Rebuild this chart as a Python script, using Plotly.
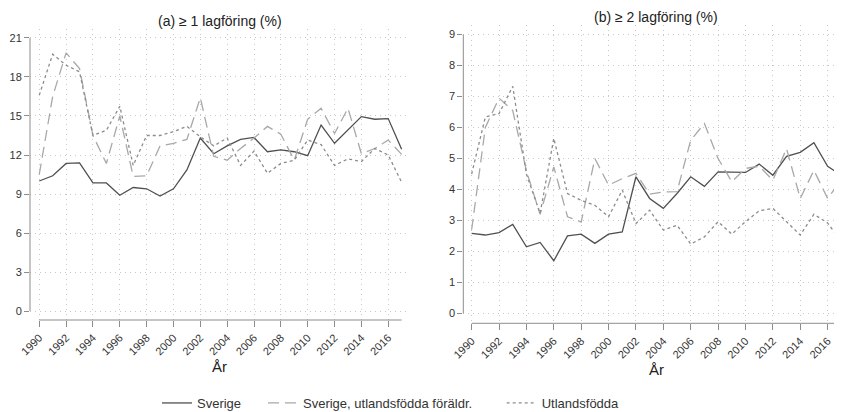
import plotly.graph_objects as go

years = list(range(1990, 2018))

# (a) >= 1 lagföring (%)
a_sverige = [10.0, 10.4, 11.35, 11.4, 9.85, 9.85, 8.9, 9.5, 9.4, 8.85, 9.4, 10.85, 13.3, 12.1,
             12.7, 13.2, 13.35, 12.25, 12.4, 12.25, 11.95, 14.3, 12.9, 13.9, 14.95, 14.75, 14.8, 12.45]
a_utl_foraldr = [10.5, 16.5, 19.85, 18.65, 13.5, 11.35, 15.0, 10.35, 10.4, 12.7, 12.9, 13.2, 16.4, 11.9,
                 11.6, 12.5, 13.3, 14.2, 13.6, 11.6, 14.75, 15.6, 13.65, 15.6, 12.1, 12.5, 13.15, 12.05]
a_utlandsfodda = [16.6, 19.75, 18.9, 18.4, 13.5, 13.9, 15.75, 11.2, 13.5, 13.5, 13.8, 14.2, 13.4, 12.7,
                  13.3, 11.2, 12.3, 10.6, 11.35, 11.6, 13.15, 12.8, 11.2, 11.7, 11.5, 12.5, 12.0, 9.9]

# (b) >= 2 lagföring (%)
b_sverige = [2.58, 2.53, 2.61, 2.87, 2.15, 2.29, 1.7, 2.5, 2.56, 2.26, 2.56, 2.63, 4.41, 3.71,
             3.39, 3.87, 4.41, 4.1, 4.57, 4.57, 4.55, 4.82, 4.46, 5.07, 5.2, 5.51, 4.75, 4.46]
b_utl_foraldr = [2.7, 6.0, 6.95, 6.55, 4.6, 3.2, 4.73, 3.12, 2.95, 5.0, 4.14, 4.35, 4.52, 3.85,
                 3.92, 3.93, 5.59, 6.13, 5.0, 4.25, 4.68, 4.75, 4.3, 5.32, 3.71, 4.62, 3.71, 4.3]
b_utlandsfodda = [4.5, 6.34, 6.45, 7.33, 4.5, 3.23, 5.65, 3.87, 3.65, 3.49, 3.12, 3.98, 2.9, 3.33,
                  2.69, 2.85, 2.24, 2.47, 2.96, 2.56, 2.96, 3.31, 3.39, 2.96, 2.53, 3.2, 2.92, 2.31]

names = ['Sverige', 'Sverige, utlandsfödda föräldr.', 'Utlandsfödda']
titles = ['(a) ≥ 1 lagföring (%)', '(b) ≥ 2 lagföring (%)']
x_ticks = list(range(1990, 2017, 2))
a_yticks = [0, 3, 6, 9, 12, 15, 18, 21]
b_yticks = list(range(0, 10))

colors = ['#505050', '#a8a8a8', '#8c8c8c']
dashes = ['solid', '11px,6px', '3px,3px']
legends = ['legend', 'legend2', 'legend3']
font = 'Liberation Sans, Arial, sans-serif'
axcol = '#8c8c8c'

# page body has an 8px margin, figure drawn a bit taller than the window
W, H, OFF = 834, 420, 8


def px(xs):
    return (xs - OFF) / W


def py(ys):
    return 1 - (ys - OFF) / H


fig = go.Figure()

panels = [(a_sverige, a_utl_foraldr, a_utlandsfodda), (b_sverige, b_utl_foraldr, b_utlandsfodda)]
for p, series in enumerate(panels):
    for i, vals in enumerate(series):
        fig.add_trace(go.Scatter(
            x=years, y=vals, mode='lines', name=names[i],
            line=dict(color=colors[i], width=1.3, dash=dashes[i]),
            xaxis='x' if p == 0 else 'x2', yaxis='y' if p == 0 else 'y2',
            showlegend=(p == 0), legend=legends[i]))

common_x = dict(tickvals=x_ticks, tickangle=-45, ticks='outside', ticklen=6, tickcolor=axcol,
                showline=False, zeroline=False, showgrid=True, gridcolor='#c8c8c8',
                griddash='1px,4px', tickfont=dict(size=11, color='#333333'), automargin=False)
common_y = dict(ticks='outside', ticklen=5, tickcolor=axcol, showline=False, zeroline=False,
                showgrid=True, gridcolor='#c8c8c8', griddash='1px,4px',
                tickfont=dict(size=11, color='#333333'), automargin=False)

leg = dict(yanchor='middle', xanchor='left', orientation='h', y=py(403),
           font=dict(size=13, color='#333333'), bgcolor='rgba(0,0,0,0)')

fig.update_layout(
    template='none',
    width=W, height=H,
    margin=dict(l=0, r=0, t=0, b=0, autoexpand=False),
    plot_bgcolor='white', paper_bgcolor='white',
    font=dict(family=font, color='#333333'),
    xaxis=dict(common_x, domain=[px(30), px(407)], range=[1989.31, 2017.4], anchor='y'),
    yaxis=dict(common_y, domain=[py(320), py(29)], range=[-0.69, 21.69], tickvals=a_yticks, anchor='x'),
    xaxis2=dict(common_x, domain=[px(463.3), 1.0], range=[1989.39, 2017.05], anchor='y2'),
    yaxis2=dict(common_y, domain=[py(323.3), py(25)], range=[-0.32, 9.31], tickvals=b_yticks, anchor='x2'),
    legend=dict(leg, x=px(197 - 40)),
    legend2=dict(leg, x=px(303 - 40)),
    legend3=dict(leg, x=px(541.7 - 40)),
)

# detached axis lines (Stata style)
for xr, yr, ymax in [('x', 'y', 21), ('x2', 'y2', 9)]:
    fig.add_shape(type='line', xref=xr + ' domain', x0=0, x1=0, yref=yr, y0=0, y1=ymax,
                  line=dict(color=axcol, width=1))
    fig.add_shape(type='line', xref=xr, x0=1990, x1=2017, yref=yr + ' domain', y0=0, y1=0,
                  line=dict(color=axcol, width=1))

# panel titles and x-axis titles
for cx, ty, xy, txt in [(220, 20.7, 366.7, titles[0]), (656, 16.7, 369, titles[1])]:
    fig.add_annotation(text=txt, x=px(cx), y=py(ty), xref='paper', yref='paper',
                       showarrow=False, xanchor='center', yanchor='middle',
                       font=dict(size=14, color='#222222'))
    fig.add_annotation(text='År', x=px(cx), y=py(xy), xref='paper', yref='paper',
                       showarrow=False, xanchor='center', yanchor='middle',
                       font=dict(size=15, color='#222222'))

fig.write_html("out.html")
